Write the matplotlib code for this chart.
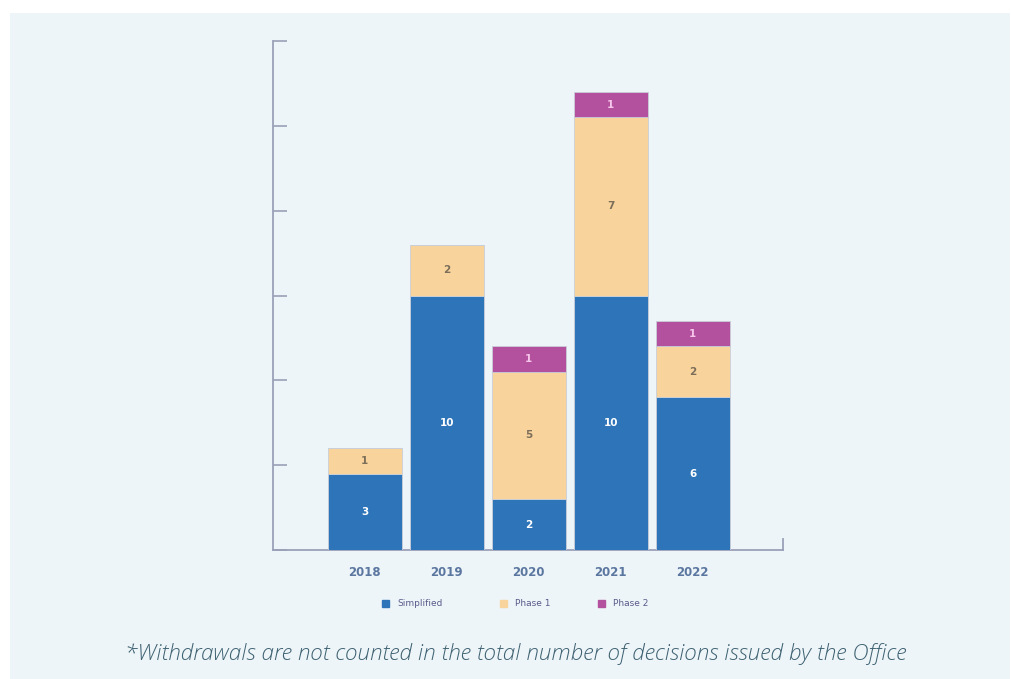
import matplotlib.pyplot as plt
import numpy as np

years = ["2018", "2019", "2020", "2021", "2022"]
simplified = [3, 10, 2, 10, 6]
phase1 = [1, 2, 5, 7, 2]
phase2 = [0, 0, 1, 1, 1]

BLUE = "#2e74b8"
SAND = "#f8d49c"
PLUM = "#b4519f"
AXIS = "#9aa0b8"
PANEL = "#eef5f9"

W, H = 1011, 679
fig = plt.figure(figsize=(W / 100, H / 100), dpi=100)
fig.patch.set_facecolor("white")

# light panel behind everything
bg = fig.add_axes([10 / W, 0, 1000 / W, 666 / H], zorder=-1)
bg.axis("off")
bg.add_patch(plt.Rectangle((0, 0), 1, 1, transform=bg.transAxes, color=PANEL))

ax = fig.add_axes([273 / W, 1 - 550 / H, (783 - 273) / W, (550 - 41) / H], zorder=2)
ax.set_facecolor("none")

x = np.arange(len(years))
bottom2 = np.array(simplified) + np.array(phase1)
ax.bar(x, simplified, width=0.9, color=BLUE, edgecolor="#c9ced8", lw=0.6, zorder=3)
ax.bar(x, phase1, width=0.9, bottom=simplified, color=SAND, edgecolor="#c9ced8", lw=0.6, zorder=3)
ax.bar(x, phase2, width=0.9, bottom=bottom2, color=PLUM, edgecolor="#c9ced8", lw=0.6, zorder=3)

for i in x:
    ax.text(i, simplified[i] / 2, str(simplified[i]), ha="center", va="center",
            color="white", fontsize=7.5, fontweight="semibold", zorder=4)
    ax.text(i, simplified[i] + phase1[i] / 2, str(phase1[i]), ha="center", va="center",
            color="#7d6e5a", fontsize=7.5, fontweight="semibold", zorder=4)
    if phase2[i]:
        ax.text(i, bottom2[i] + phase2[i] / 2, str(phase2[i]), ha="center", va="center",
                color="#f6c6ea", fontsize=7.5, fontweight="semibold", zorder=4)

ax.set_xlim(-1.12, 5.1)
ax.set_ylim(0, 20)
ax.set_yticks(np.linspace(0, 20, 7))
ax.set_yticklabels([])
ax.set_xticks([])
ax.tick_params(axis="y", direction="in", length=10, width=1.2, color=AXIS)
for s in ["top", "right"]:
    ax.spines[s].set_visible(False)
for s in ["left", "bottom"]:
    ax.spines[s].set_color(AXIS)
    ax.spines[s].set_linewidth(1.3)
# small upturn at the right end of the baseline
ax.plot([5.1, 5.1], [0, 0.45], color=AXIS, lw=1.3, clip_on=False, zorder=2)

for i, yr in enumerate(years):
    ax.text(i, -0.9, yr, ha="center", va="center", color="#5b77a0",
            fontsize=8.5, fontweight="bold")

# legend row
legend = [("Simplified", BLUE, 385), ("Phase 1", SAND, 503), ("Phase 2", PLUM, 601)]
for label, col, px in legend:
    fig.patches.append(plt.Rectangle(((px - 3.5) / W, 1 - 607 / H), 7 / W, 7 / H,
                                     transform=fig.transFigure, color=col, zorder=3))
    fig.text((px + 12) / W, 1 - 603.5 / H, label, ha="left", va="center",
             fontsize=6.5, color="#5c5a8a")

fig.text(516 / W, 1 - 654 / H,
         "*Withdrawals are not counted in the total number of decisions issued by the Office",
         ha="center", va="center", fontsize=16.2, style="italic", fontweight="light",
         color="#3f6272", family="Open Sans")

fig.savefig("out.png", dpi=100, facecolor=fig.get_facecolor())
